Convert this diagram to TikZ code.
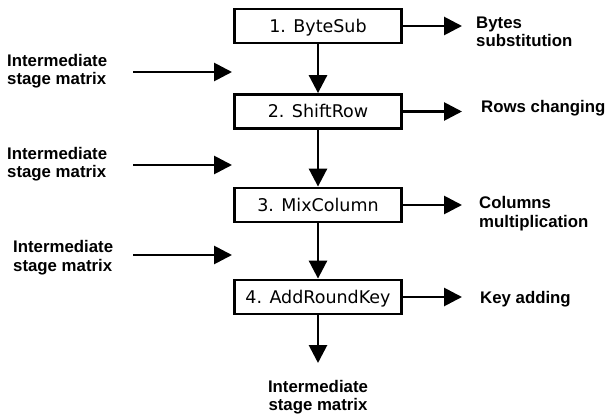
\documentclass[tikz,border=0pt]{standalone}
\usepackage{fontspec}
\setmainfont{Liberation Sans}
\newfontfamily\boxfont{DejaVu Sans}
\usetikzlibrary{arrows.meta}
\begin{document}
\begin{tikzpicture}[x=1pt,y=-1pt,
  stagebox/.style={draw,line width=2.8pt,minimum width=167pt,minimum height=34pt,inner sep=0pt,
    text height=12.7pt,text depth=0pt,font=\boxfont\fontsize{17.5}{20}\selectfont},
  lbl/.style={font=\bfseries\fontsize{16.8}{18.5}\selectfont,align=left,inner sep=0pt,anchor=base west},
  arr/.style={line width=2.8pt,-{Triangle[length=18pt,width=18pt]}}]
\useasboundingbox (0,0) rectangle (605,417);
\node[stagebox] (b1) at (318,26) {1. ByteSub};
\node[stagebox] (b2) at (318,111.5) {2. ShiftRow};
\node[stagebox] (b3) at (318,205) {3. MixColumn};
\node[stagebox] (b4) at (318,297) {4. AddRoundKey};
% right labels (base = last line)
\node[lbl] (r1) at (476,47) {Bytes\\substitution};
\node[lbl] (r2) at (481,113) {Rows changing};
\node[lbl] (r3) at (479,227) {Columns\\multiplication};
\node[lbl] (r4) at (480,303) {Key adding};
% left labels
\node[lbl] (l1) at (7,85) {Intermediate\\stage matrix};
\node[lbl] (l2) at (7,178) {Intermediate\\stage matrix};
\node[lbl] (l3) at (13,271) {Intermediate\\stage matrix};
\node[lbl,align=center,anchor=base] (l4) at (318,410.5) {Intermediate\\stage matrix};
% free ends
\coordinate (t1) at (462,26);
\coordinate (t2) at (462,111.5);
\coordinate (t3) at (462,205);
\coordinate (t4) at (462,297);
\coordinate (s1) at (133,72);
\coordinate (e1) at (232,72);
\coordinate (s2) at (133,165);
\coordinate (e2) at (232,165);
\coordinate (s3) at (133,255);
\coordinate (e3) at (232,255);
\coordinate (bt) at (318,363);
% arrows
\draw[arr] (b1.east) -- (t1);
\draw[arr] (b2.east) -- (t2);
\draw[arr] (b3.east) -- (t3);
\draw[arr] (b4.east) -- (t4);
\draw[arr] (b1) -- (b2);
\draw[arr] (b2) -- (b3);
\draw[arr] (b3) -- (b4);
\draw[arr] (b4) -- (bt);
\draw[arr] (s1) -- (e1);
\draw[arr] (s2) -- (e2);
\draw[arr] (s3) -- (e3);
\end{tikzpicture}
\end{document}
